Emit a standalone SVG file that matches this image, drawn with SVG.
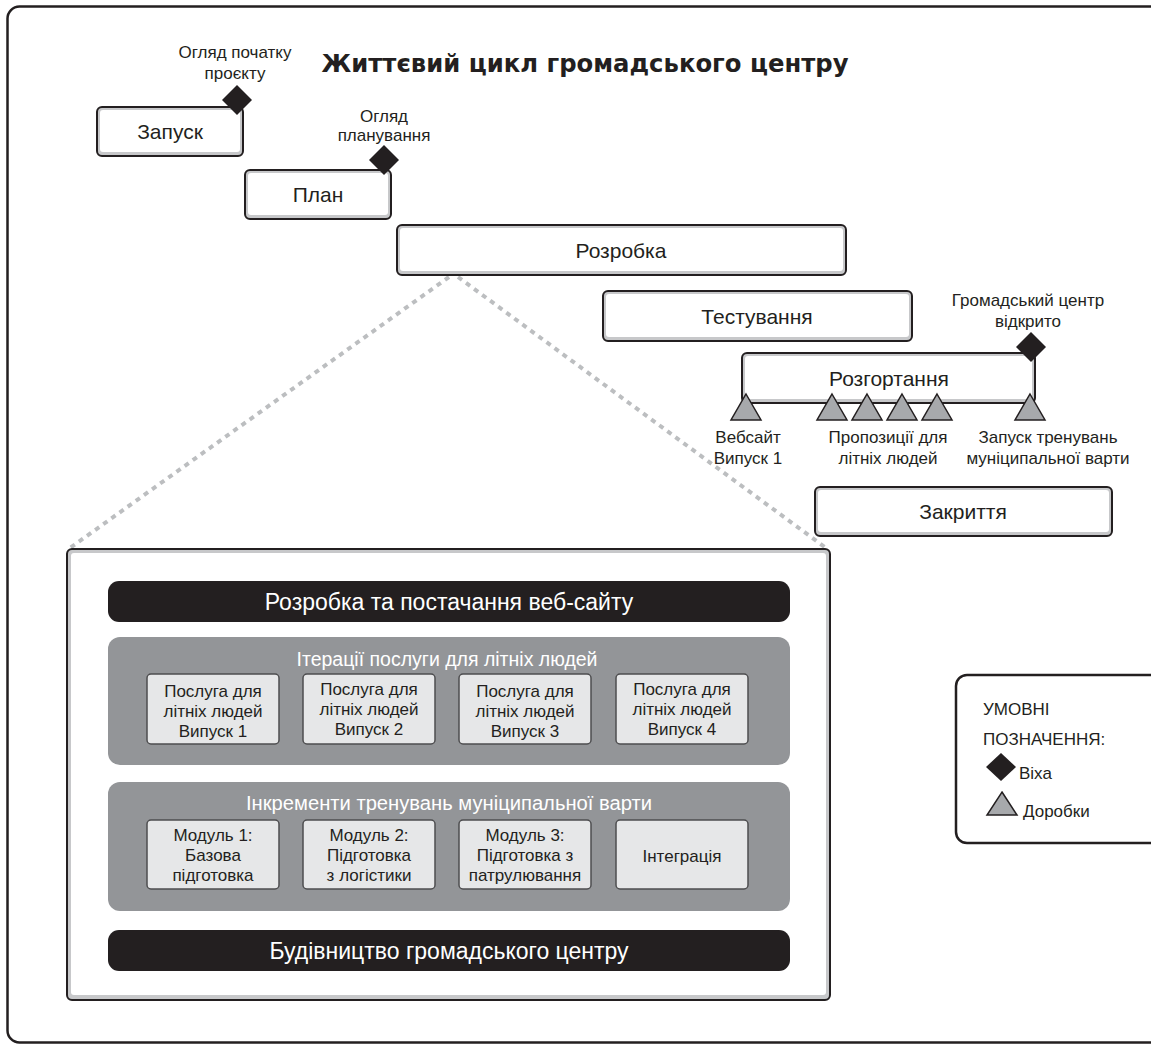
<svg xmlns="http://www.w3.org/2000/svg" width="1151" height="1045" viewBox="0 0 1151 1045">
  <style>
    text { font-family: "Liberation Sans", Arial, sans-serif; fill: #231f20; }
    .lbl { font-size: 17px; text-anchor: middle; }
    .phase { font-size: 21px; text-anchor: middle; }
    .title { font-family: "DejaVu Sans", "Liberation Sans", sans-serif; font-size: 25px; font-weight: bold; text-anchor: middle; }
    .frameOut { fill: #c7c8ca; stroke: #231f20; stroke-width: 2; }
    .frameIn { fill: #ffffff; }
    .bar { fill: #231f20; }
    .barText { fill: #ffffff; font-size: 23px; text-anchor: middle; }
    .panel { fill: #939598; }
    .panelText { fill: #ffffff; font-size: 19.5px; text-anchor: middle; }
    .sub { fill: #e6e7e8; stroke: #4d4d4f; stroke-width: 1.5; }
    .subText { font-size: 17px; text-anchor: middle; }
    .milestone { fill: #231f20; }
    .drop { fill: #a7a9ac; stroke: #231f20; stroke-width: 1.5; stroke-linejoin: miter; }
    .zoomLine { fill: none; stroke: #bcbec0; stroke-width: 4; stroke-dasharray: 5 5; }
    .legendText { font-size: 17px; }
  </style>
  <defs>
    <path id="diamond" d="M0,-15 L15,0 L0,15 L-15,0 Z"/>
    <path id="tri" d="M0,-26 L15,0 L-15,0 Z"/>
  </defs>

  <!-- outer frame -->
  <rect x="7.5" y="6.5" width="1160" height="1036" rx="12" fill="#ffffff" stroke="#231f20" stroke-width="2.5"/>

  <text class="title" x="585" y="72" textLength="527" lengthAdjust="spacingAndGlyphs">Життєвий цикл громадського центру</text>

  <!-- zoom-out lines from the development phase -->
  <g id="connectors">
    <path class="zoomLine" d="M449,277 L70,548"/>
    <path class="zoomLine" d="M458,277 L826,548"/>
  </g>

  <!-- phases -->
  <g id="phase-launch">
    <rect class="frameOut" x="97" y="107" width="146" height="49" rx="5"/>
    <rect class="frameIn" x="100" y="110" width="140" height="42" rx="3"/>
    <text class="phase" x="170" y="139">Запуск</text>
  </g>
  <g id="ms-kickoff">
    <use href="#diamond" class="milestone" x="237" y="100"/>
    <text class="lbl" x="235" y="58">Огляд початку</text>
    <text class="lbl" x="235" y="79">проєкту</text>
  </g>

  <g id="phase-plan">
    <rect class="frameOut" x="245" y="170" width="146" height="49" rx="5"/>
    <rect class="frameIn" x="248" y="173" width="140" height="42" rx="3"/>
    <text class="phase" x="318" y="202">План</text>
  </g>
  <g id="ms-plan-review">
    <use href="#diamond" class="milestone" x="384" y="160"/>
    <text class="lbl" x="384" y="122">Огляд</text>
    <text class="lbl" x="384" y="141">планування</text>
  </g>

  <g id="phase-dev">
    <rect class="frameOut" x="397" y="225" width="449" height="50" rx="5"/>
    <rect class="frameIn" x="400" y="228" width="443" height="43" rx="3"/>
    <text class="phase" x="621" y="258">Розробка</text>
  </g>

  <g id="phase-test">
    <rect class="frameOut" x="603" y="291" width="309" height="50" rx="5"/>
    <rect class="frameIn" x="606" y="294" width="303" height="43" rx="3"/>
    <text class="phase" x="757" y="324">Тестування</text>
  </g>

  <g id="phase-deploy">
    <rect class="frameOut" x="742" y="353" width="293" height="50" rx="5"/>
    <rect class="frameIn" x="745" y="356" width="287" height="43" rx="3"/>
    <text class="phase" x="889" y="386">Розгортання</text>
  </g>
  <g id="ms-open">
    <use href="#diamond" class="milestone" x="1031" y="347"/>
    <text class="lbl" x="1028" y="306">Громадський центр</text>
    <text class="lbl" x="1028" y="327">відкрито</text>
  </g>
  <g id="drops">
    <use href="#tri" class="drop" x="746" y="420"/>
    <use href="#tri" class="drop" x="832" y="420"/>
    <use href="#tri" class="drop" x="867" y="420"/>
    <use href="#tri" class="drop" x="902" y="420"/>
    <use href="#tri" class="drop" x="937" y="420"/>
    <use href="#tri" class="drop" x="1030" y="420"/>
    <text class="lbl" x="748" y="443">Вебсайт</text>
    <text class="lbl" x="748" y="464">Випуск 1</text>
    <text class="lbl" x="888" y="443">Пропозиції для</text>
    <text class="lbl" x="888" y="464">літніх людей</text>
    <text class="lbl" x="1048" y="443">Запуск тренувань</text>
    <text class="lbl" x="1048" y="464">муніципальної варти</text>
  </g>

  <g id="phase-close">
    <rect class="frameOut" x="815" y="487" width="297" height="49" rx="5"/>
    <rect class="frameIn" x="818" y="490" width="291" height="42" rx="3"/>
    <text class="phase" x="963" y="519">Закриття</text>
  </g>

  <!-- development detail -->
  <g id="dev-detail">
    <rect class="frameOut" x="67" y="549" width="763" height="451" rx="5"/>
    <rect class="frameIn" x="71" y="553" width="755" height="442" rx="3"/>
  </g>

  <g id="website">
    <rect class="bar" x="108" y="581" width="682" height="41" rx="11"/>
    <text class="barText" x="449" y="610">Розробка та постачання веб-сайту</text>
  </g>

  <g id="elderly">
    <rect class="panel" x="108" y="637" width="682" height="128" rx="12"/>
    <text class="panelText" x="447" y="666" textLength="301" lengthAdjust="spacingAndGlyphs">Ітерації послуги для літніх людей</text>
  </g>
  <g id="elderly-1">
    <rect class="sub" x="147" y="674" width="132" height="70" rx="4"/>
    <text class="subText" x="213" y="697">Послуга для</text>
    <text class="subText" x="213" y="717">літніх людей</text>
    <text class="subText" x="213" y="737">Випуск 1</text>
  </g>
  <g id="elderly-2">
    <rect class="sub" x="303" y="674" width="132" height="70" rx="4"/>
    <text class="subText" x="369" y="695">Послуга для</text>
    <text class="subText" x="369" y="715">літніх людей</text>
    <text class="subText" x="369" y="735">Випуск 2</text>
  </g>
  <g id="elderly-3">
    <rect class="sub" x="459" y="674" width="132" height="70" rx="4"/>
    <text class="subText" x="525" y="697">Послуга для</text>
    <text class="subText" x="525" y="717">літніх людей</text>
    <text class="subText" x="525" y="737">Випуск 3</text>
  </g>
  <g id="elderly-4">
    <rect class="sub" x="616" y="674" width="132" height="70" rx="4"/>
    <text class="subText" x="682" y="695">Послуга для</text>
    <text class="subText" x="682" y="715">літніх людей</text>
    <text class="subText" x="682" y="735">Випуск 4</text>
  </g>

  <g id="watch">
    <rect class="panel" x="108" y="782" width="682" height="129" rx="12"/>
    <text class="panelText" x="449" y="810" textLength="406" lengthAdjust="spacingAndGlyphs">Інкременти тренувань муніципальної варти</text>
  </g>
  <g id="watch-1">
    <rect class="sub" x="147" y="820" width="132" height="69" rx="4"/>
    <text class="subText" x="213" y="841">Модуль 1:</text>
    <text class="subText" x="213" y="861">Базова</text>
    <text class="subText" x="213" y="881">підготовка</text>
  </g>
  <g id="watch-2">
    <rect class="sub" x="303" y="820" width="132" height="69" rx="4"/>
    <text class="subText" x="369" y="841">Модуль 2:</text>
    <text class="subText" x="369" y="861">Підготовка</text>
    <text class="subText" x="369" y="881">з логістики</text>
  </g>
  <g id="watch-3">
    <rect class="sub" x="459" y="820" width="132" height="69" rx="4"/>
    <text class="subText" x="525" y="841">Модуль 3:</text>
    <text class="subText" x="525" y="861">Підготовка з</text>
    <text class="subText" x="525" y="881">патрулювання</text>
  </g>
  <g id="watch-4">
    <rect class="sub" x="616" y="820" width="132" height="69" rx="4"/>
    <text class="subText" x="682" y="862">Інтеграція</text>
  </g>

  <g id="building">
    <rect class="bar" x="108" y="930" width="682" height="41" rx="11"/>
    <text class="barText" x="449" y="959">Будівництво громадського центру</text>
  </g>

  <!-- legend -->
  <g id="legend">
    <rect x="956" y="675" width="220" height="168" rx="11" fill="#ffffff" stroke="#231f20" stroke-width="2.5"/>
    <text class="legendText" x="983" y="715">УМОВНІ</text>
    <text class="legendText" x="983" y="745">ПОЗНАЧЕННЯ:</text>
    <path class="milestone" d="M1001,753 L1016,767 L1001,781 L986,767 Z"/>
    <text class="legendText" x="1019" y="779">Віха</text>
    <path class="drop" d="M1002,792 L1017,815 L987,815 Z"/>
    <text class="legendText" x="1023" y="817">Доробки</text>
  </g>
</svg>
